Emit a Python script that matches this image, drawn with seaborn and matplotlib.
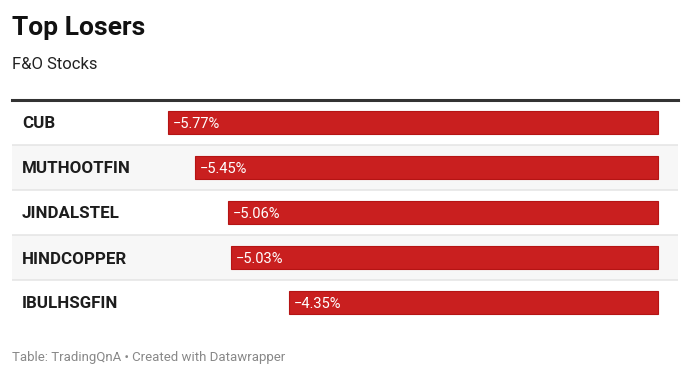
import pandas as pd
import matplotlib.pyplot as plt
import seaborn as sns

sns.set_theme(style="white")
plt.rcParams['font.family'] = ['Roboto', 'DejaVu Sans']

stocks = ["CUB", "MUTHOOTFIN", "JINDALSTEL", "HINDCOPPER", "IBULHSGFIN"]
change = [-5.77, -5.45, -5.06, -5.03, -4.35]

df = pd.DataFrame({"Stock": stocks, "Change": change})

W, H = 690, 377
fig = plt.figure(figsize=(W / 100, H / 100), dpi=100)
fig.patch.set_facecolor("white")

# table area in pixels: x 12..678, y 100..325
ax = fig.add_axes([12 / W, 1 - 325 / H, 666 / W, 225 / H])

# bars: 0 at x=658px, max loss at x=168px
px_per_unit = (658 - 168) / abs(min(change))
ax.set_xlim(-(658 - 12) / px_per_unit, (678 - 658) / px_per_unit)

for i in range(len(stocks)):
    if i % 2 == 1:
        ax.axhspan(i - 0.5, i + 0.5, color="#f7f7f7", zorder=0, lw=0)
for i in range(len(stocks) - 1):
    ax.axhline(i + 0.5, color="#e6e6e6", lw=1.2, zorder=1)

sns.barplot(data=df, x="Change", y="Stock", orient="h", color="#c91f1f",
            width=0.53, saturation=1, edgecolor="#b51414", linewidth=0.8,
            ax=ax, zorder=2)
ax.set_ylim(len(stocks) - 0.5, -0.5)

for i, (s, v) in enumerate(zip(stocks, change)):
    ax.text(0.015, i, s, transform=ax.get_yaxis_transform(), ha="left",
            va="center_baseline", fontsize=12.2, fontweight="bold", color="#1d1d1d")
    ax.annotate(f"\u2212{abs(v):.2f}%", (v, i), xytext=(3.5, 0), textcoords="offset points",
                ha="left", va="center_baseline", fontsize=10.5, color="white", zorder=3)

ax.set_xlabel("")
ax.set_ylabel("")
ax.set_xticks([])
ax.set_yticks([])
for side in ["left", "right", "bottom"]:
    ax.spines[side].set_visible(False)
ax.spines["top"].set_color("#333333")
ax.spines["top"].set_linewidth(2.2)
ax.patch.set_alpha(0)

fig.text(12 / W, 1 - 26 / H, "Top Losers", fontsize=19, fontweight="bold",
         color="#111111", ha="left", va="center_baseline")
fig.text(12 / W, 1 - 63 / H, "F&O Stocks", fontsize=12, color="#222222",
         ha="left", va="center_baseline")
fig.text(12 / W, 1 - 356 / H, "Table: TradingQnA \u2022 Created with Datawrapper",
         fontsize=9.5, color="#888888", ha="left", va="center_baseline")

plt.savefig("out.png", dpi=100)
